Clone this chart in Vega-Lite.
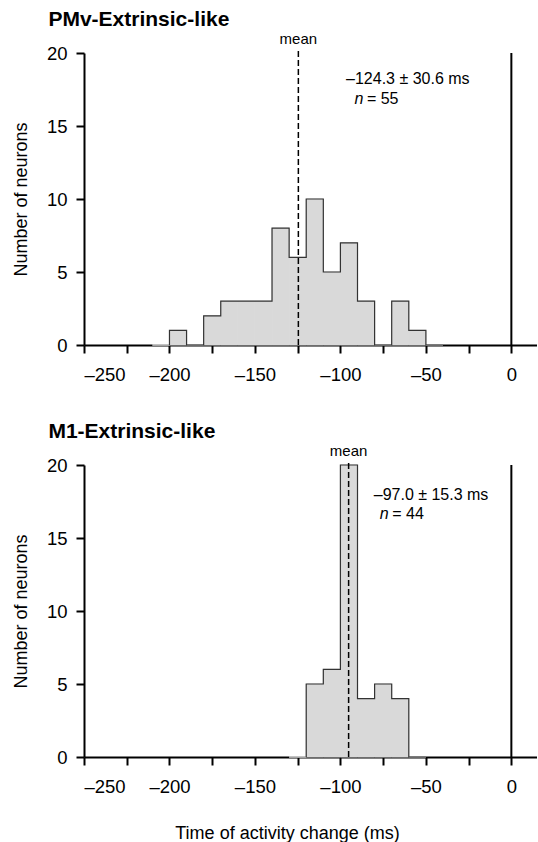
{
  "$schema": "https://vega.github.io/schema/vega-lite/v6.json",
  "background": "white",
  "padding": {"left": 12, "top": 9, "right": 0, "bottom": 0},
  "spacing": 120,
  "bounds": "flush",
  "config": {
    "font": "Liberation Sans",
    "view": {"stroke": null},
    "axis": {
      "grid": false,
      "domainColor": "black",
      "domainWidth": 2,
      "tickColor": "black",
      "tickWidth": 2,
      "tickSize": 8,
      "labelColor": "black",
      "labelFontSize": 18.5,
      "labelFont": "Liberation Sans",
      "titleColor": "black",
      "titleFontSize": 18,
      "titleFontWeight": "normal",
      "titleFont": "Liberation Sans",
      "zindex": 1
    },
    "title": {"color": "black", "font": "Liberation Sans"}
  },
  "datasets": {
    "bins": [
      {"panel": "PMv", "start": -210, "end": -200, "count": 0},
      {"panel": "PMv", "start": -200, "end": -190, "count": 1},
      {"panel": "PMv", "start": -190, "end": -180, "count": 0},
      {"panel": "PMv", "start": -180, "end": -170, "count": 2},
      {"panel": "PMv", "start": -170, "end": -160, "count": 3},
      {"panel": "PMv", "start": -160, "end": -150, "count": 3},
      {"panel": "PMv", "start": -150, "end": -140, "count": 3},
      {"panel": "PMv", "start": -140, "end": -130, "count": 8},
      {"panel": "PMv", "start": -130, "end": -120, "count": 6},
      {"panel": "PMv", "start": -120, "end": -110, "count": 10},
      {"panel": "PMv", "start": -110, "end": -100, "count": 5},
      {"panel": "PMv", "start": -100, "end": -90, "count": 7},
      {"panel": "PMv", "start": -90, "end": -80, "count": 3},
      {"panel": "PMv", "start": -80, "end": -70, "count": 0},
      {"panel": "PMv", "start": -70, "end": -60, "count": 3},
      {"panel": "PMv", "start": -60, "end": -50, "count": 1},
      {"panel": "PMv", "start": -50, "end": -40, "count": 0},
      {"panel": "M1", "start": -130, "end": -120, "count": 0},
      {"panel": "M1", "start": -120, "end": -110, "count": 5},
      {"panel": "M1", "start": -110, "end": -100, "count": 6},
      {"panel": "M1", "start": -100, "end": -90, "count": 20},
      {"panel": "M1", "start": -90, "end": -80, "count": 4},
      {"panel": "M1", "start": -80, "end": -70, "count": 5},
      {"panel": "M1", "start": -70, "end": -60, "count": 4},
      {"panel": "M1", "start": -60, "end": -50, "count": 0}
    ],
    "stats": [
      {"panel": "PMv", "mean": -124.6, "summary": "–124.3 ± 30.6 ms", "nlabel": "= 55"},
      {"panel": "M1", "mean": -95.2, "summary": "–97.0 ± 15.3 ms", "nlabel": "= 44"}
    ]
  },
  "vconcat": [
    {
      "width": 453,
      "height": 292,
      "title": {"text": "PMv-Extrinsic-like", "anchor": "start", "fontSize": 21, "fontWeight": "bold", "dx": 36, "offset": -15, "baseline": "alphabetic"},
      "layer": [
        {
          "data": {"name": "bins"},
          "transform": [{"filter": "datum.panel === 'PMv'"}],
          "mark": {"type": "rect", "fill": "#d9d9d9", "stroke": "#d9d9d9", "strokeWidth": 1},
          "encoding": {
            "x": {"field": "start", "type": "quantitative", "scale": {"domain": [-250, 15], "nice": false, "zero": false},
              "axis": {"title": null, "values": [-250, -225, -200, -175, -150, -125, -100, -75, -50, -25, 0], "labelExpr": "datum.value % 50 === 0 ? (datum.value < 0 ? '–' + abs(datum.value) : '' + datum.value) : ''", "labelPadding": 12}},
            "x2": {"field": "end"},
            "y": {"field": "count", "type": "quantitative", "scale": {"domain": [0, 20], "nice": false},
              "axis": {"title": "Number of neurons", "values": [0, 5, 10, 15, 20], "labelPadding": 9, "titlePadding": 16}},
            "y2": {"datum": 0}
          }
        },
        {
          "data": {"name": "bins"},
          "transform": [{"filter": "datum.panel === 'PMv'"}],
          "mark": {"type": "line", "interpolate": "step-before", "color": "#333333", "strokeWidth": 1.2},
          "encoding": {
            "x": {"field": "end", "type": "quantitative"},
            "y": {"field": "count", "type": "quantitative"}
          }
        },
        {
          "data": {"name": "stats"},
          "transform": [{"filter": "datum.panel === 'PMv'"}],
          "mark": {"type": "rule", "color": "black", "strokeWidth": 1.5, "strokeDash": [6, 3]},
          "encoding": {
            "x": {"field": "mean", "type": "quantitative"},
            "y": {"datum": 0, "type": "quantitative"},
            "y2": {"datum": 20.3}
          }
        },
        {
          "data": {"name": "stats"},
          "transform": [{"filter": "datum.panel === 'PMv'"}],
          "mark": {"type": "text", "fontSize": 15, "color": "black", "baseline": "alphabetic", "align": "center"},
          "encoding": {
            "x": {"field": "mean", "type": "quantitative"},
            "y": {"datum": 20.6, "type": "quantitative"},
            "text": {"value": "mean"}
          }
        },
        {
          "data": {"name": "stats"},
          "transform": [{"filter": "datum.panel === 'PMv'"}],
          "mark": {"type": "text", "fontSize": 16, "color": "black", "baseline": "alphabetic", "align": "left"},
          "encoding": {
            "x": {"datum": -96.7, "type": "quantitative"},
            "y": {"datum": 17.9, "type": "quantitative"},
            "text": {"field": "summary"}
          }
        },
        {
          "data": {"name": "stats"},
          "transform": [{"filter": "datum.panel === 'PMv'"}],
          "mark": {"type": "text", "fontSize": 16, "fontStyle": "italic", "color": "black", "baseline": "alphabetic", "align": "left"},
          "encoding": {
            "x": {"datum": -91.8, "type": "quantitative"},
            "y": {"datum": 16.5, "type": "quantitative"},
            "text": {"value": "n"}
          }
        },
        {
          "data": {"name": "stats"},
          "transform": [{"filter": "datum.panel === 'PMv'"}],
          "mark": {"type": "text", "fontSize": 16, "color": "black", "baseline": "alphabetic", "align": "left", "dx": 12.5},
          "encoding": {
            "x": {"datum": -91.8, "type": "quantitative"},
            "y": {"datum": 16.5, "type": "quantitative"},
            "text": {"field": "nlabel"}
          }
        },
        {
          "data": {"name": "stats"},
          "transform": [{"filter": "datum.panel === 'PMv'"}],
          "mark": {"type": "rule", "color": "black", "strokeWidth": 2},
          "encoding": {
            "x": {"datum": 0, "type": "quantitative"},
            "y": {"datum": 0, "type": "quantitative"},
            "y2": {"datum": 20}
          }
        }
      ]
    },
    {
      "width": 453,
      "height": 292,
      "title": {"text": "M1-Extrinsic-like", "anchor": "start", "fontSize": 21, "fontWeight": "bold", "dx": 36, "offset": -15, "baseline": "alphabetic"},
      "layer": [
        {
          "data": {"name": "bins"},
          "transform": [{"filter": "datum.panel === 'M1'"}],
          "mark": {"type": "rect", "fill": "#d9d9d9", "stroke": "#d9d9d9", "strokeWidth": 1},
          "encoding": {
            "x": {"field": "start", "type": "quantitative", "scale": {"domain": [-250, 15], "nice": false, "zero": false},
              "axis": {"title": "Time of activity change (ms)", "titleX": 203, "titlePadding": 29, "values": [-250, -225, -200, -175, -150, -125, -100, -75, -50, -25, 0], "labelExpr": "datum.value % 50 === 0 ? (datum.value < 0 ? '–' + abs(datum.value) : '' + datum.value) : ''", "labelPadding": 12}},
            "x2": {"field": "end"},
            "y": {"field": "count", "type": "quantitative", "scale": {"domain": [0, 20], "nice": false},
              "axis": {"title": "Number of neurons", "values": [0, 5, 10, 15, 20], "labelPadding": 9, "titlePadding": 16}},
            "y2": {"datum": 0}
          }
        },
        {
          "data": {"name": "bins"},
          "transform": [{"filter": "datum.panel === 'M1'"}],
          "mark": {"type": "line", "interpolate": "step-before", "color": "#333333", "strokeWidth": 1.2},
          "encoding": {
            "x": {"field": "end", "type": "quantitative"},
            "y": {"field": "count", "type": "quantitative"}
          }
        },
        {
          "data": {"name": "stats"},
          "transform": [{"filter": "datum.panel === 'M1'"}],
          "mark": {"type": "rule", "color": "black", "strokeWidth": 1.5, "strokeDash": [6, 3]},
          "encoding": {
            "x": {"field": "mean", "type": "quantitative"},
            "y": {"datum": 0, "type": "quantitative"},
            "y2": {"datum": 20.3}
          }
        },
        {
          "data": {"name": "stats"},
          "transform": [{"filter": "datum.panel === 'M1'"}],
          "mark": {"type": "text", "fontSize": 15, "color": "black", "baseline": "alphabetic", "align": "center"},
          "encoding": {
            "x": {"field": "mean", "type": "quantitative"},
            "y": {"datum": 20.6, "type": "quantitative"},
            "text": {"value": "mean"}
          }
        },
        {
          "data": {"name": "stats"},
          "transform": [{"filter": "datum.panel === 'M1'"}],
          "mark": {"type": "text", "fontSize": 16, "color": "black", "baseline": "alphabetic", "align": "left"},
          "encoding": {
            "x": {"datum": -80.5, "type": "quantitative"},
            "y": {"datum": 17.6, "type": "quantitative"},
            "text": {"field": "summary"}
          }
        },
        {
          "data": {"name": "stats"},
          "transform": [{"filter": "datum.panel === 'M1'"}],
          "mark": {"type": "text", "fontSize": 16, "fontStyle": "italic", "color": "black", "baseline": "alphabetic", "align": "left"},
          "encoding": {
            "x": {"datum": -77, "type": "quantitative"},
            "y": {"datum": 16.3, "type": "quantitative"},
            "text": {"value": "n"}
          }
        },
        {
          "data": {"name": "stats"},
          "transform": [{"filter": "datum.panel === 'M1'"}],
          "mark": {"type": "text", "fontSize": 16, "color": "black", "baseline": "alphabetic", "align": "left", "dx": 12.5},
          "encoding": {
            "x": {"datum": -77, "type": "quantitative"},
            "y": {"datum": 16.3, "type": "quantitative"},
            "text": {"field": "nlabel"}
          }
        },
        {
          "data": {"name": "stats"},
          "transform": [{"filter": "datum.panel === 'M1'"}],
          "mark": {"type": "rule", "color": "black", "strokeWidth": 2},
          "encoding": {
            "x": {"datum": 0, "type": "quantitative"},
            "y": {"datum": 0, "type": "quantitative"},
            "y2": {"datum": 20}
          }
        }
      ]
    }
  ]
}
